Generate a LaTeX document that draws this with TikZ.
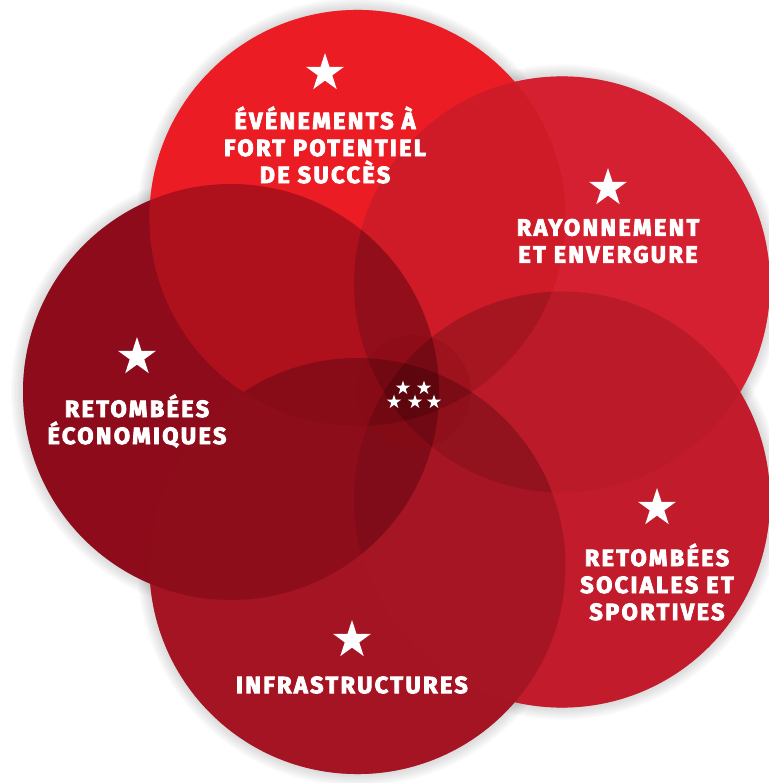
\documentclass[tikz,border=0pt]{standalone}
\usepackage{fontspec}
\newfontfamily\labelfont{Fira Sans}[LetterSpace=10, BoldFeatures={FakeBold=3.5}]
\usetikzlibrary{shapes.geometric}
\definecolor{evenRed}{HTML}{EC1C24}
\definecolor{rayonRed}{HTML}{D42030}
\definecolor{socialRed}{HTML}{C21B2B}
\definecolor{infraRed}{HTML}{A51422}
\definecolor{ecoRed}{HTML}{8E0B1C}
\definecolor{coreRed}{HTML}{8A0A14}

\begin{document}
\begin{tikzpicture}[
  x=1pt, y=1pt,
  petaltext/.style={text=white, align=center, inner sep=0pt,
    font=\labelfont\bfseries\fontsize{23.5}{27}\selectfont},
  bigstar/.style={star, star points=5, star point ratio=2.618,
    fill=white, minimum size=40pt, inner sep=0pt},
  smallstar/.style={bigstar, minimum size=15pt}]
\useasboundingbox (-414,-391) rectangle (354,392);
% soft glow round the petals
\foreach \a in {36,108,...,324}
  \foreach \k in {1,...,6}
    \fill[black, opacity=.025] (\a:183) circle (208+2*\k);
% petals, opaque first
\foreach \a/\c in {180/ecoRed,252/infraRed,324/socialRed,36/rayonRed,108/evenRed}
  \fill[\c] (\a:183) circle (208);
% then half see-through, other order
\foreach \a/\c in {108/evenRed,36/rayonRed,324/socialRed,252/infraRed,180/ecoRed}
  \fill[\c, fill opacity=.5] (\a:183) circle (208);
% darker where two petals cross
\foreach \i in {0,...,4}
  \foreach \j in {0,...,4}{
    \ifnum\i<\j
      \begin{scope}
        \clip ({36+72*\i}:183) circle (208);
        \fill[black, fill opacity=.07] ({36+72*\j}:183) circle (208);
      \end{scope}
    \fi}
% core
\fill[coreRed, fill opacity=.3] (0,0) circle (57);
\node[smallstar] (core1) at (-11,4) {};
\node[smallstar] (core2) at (10,4) {};
\node[smallstar] (core3) at (-20,-10) {};
\node[smallstar] (core4) at (1,-10) {};
\node[smallstar] (core5) at (20,-10) {};

% labels
\node[bigstar] (evenStar) at (-89,319) {};
\node[petaltext] (even) at (-89,247) {ÉVÉNEMENTS À\\FORT POTENTIEL\\DE SUCCÈS};
\node[bigstar] (rayonStar) at (194,204) {};
\node[petaltext] (rayon) at (194,151) {RAYONNEMENT\\ET ENVERGURE};
\node[bigstar] (ecoStar) at (-277,35) {};
\node[petaltext] (eco) at (-277,-29) {RETOMBÉES\\ÉCONOMIQUES};
\node[bigstar] (socialStar) at (243,-116) {};
\node[petaltext] (social) at (243,-190) {RETOMBÉES\\SOCIALES ET\\SPORTIVES};
\node[bigstar] (infraStar) at (-62,-248) {};
\node[petaltext] (infra) at (-62,-293) {INFRASTRUCTURES};
\end{tikzpicture}
\end{document}
